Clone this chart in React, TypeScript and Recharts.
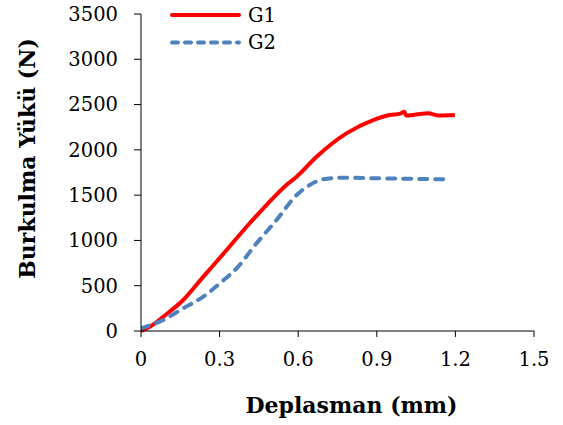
import { LineChart, Line, XAxis, YAxis, Legend } from 'recharts';

// G1 (red, solid)
const g1X = [0, 0.03, 0.085, 0.161, 0.238, 0.327, 0.403, 0.479, 0.555, 0.594, 0.67, 0.784, 0.886, 0.95, 0.99, 1.005, 1.012, 1.05, 1.096, 1.134, 1.198];
const g1Y = [0, 40, 158, 342, 600, 894, 1151, 1391, 1612, 1703, 1924, 2182, 2329, 2385, 2400, 2421, 2380, 2390, 2403, 2380, 2385];

// G2 (blue, dashed)
const g2X = [0, 0.085, 0.161, 0.238, 0.301, 0.365, 0.441, 0.517, 0.594, 0.644, 0.695, 0.771, 0.911, 1.159];
const g2Y = [30, 121, 250, 379, 527, 692, 968, 1225, 1501, 1612, 1675, 1692, 1686, 1675];

const xTicks = [0, 0.3, 0.6, 0.9, 1.2, 1.5];
const yTicks = [0, 500, 1000, 1500, 2000, 2500, 3000, 3500];

const series = [
  { name: 'G1', color: '#FF0000', dash: undefined as string | undefined },
  { name: 'G2', color: '#4F81BD', dash: '8 8' },
];

const g1 = g1X.map((x, i) => ({ x, y: g1Y[i] }));
const g2 = g2X.map((x, i) => ({ x, y: g2Y[i] }));

const FONT = '"DejaVu Serif", serif';
const tickStyle = { fill: '#000', fontSize: 19.5, fontFamily: FONT };

function LegendBox() {
  return (
    <svg width={120} height={60} style={{ display: 'block' }}>
      {series.map((s, i) => (
        <g key={s.name}>
          <line
            x1={4}
            x2={71}
            y1={13 + i * 27.5}
            y2={13 + i * 27.5}
            stroke={s.color}
            strokeWidth={4}
            strokeDasharray={s.dash ? '6 7' : undefined}
            strokeLinecap="round"
          />
          <text x={80} y={13 + i * 27.5} dominantBaseline="central" fontSize={19.5} fontFamily={FONT} fill="#000">
            {s.name}
          </text>
        </g>
      ))}
    </svg>
  );
}

const YTitle = (props: any) => {
  const vb = props.viewBox;
  const cx = vb.x + 27;
  const cy = vb.y + vb.height / 2 - 14;
  return (
    <text x={cx} y={cy} transform={`rotate(-90 ${cx} ${cy})`} textAnchor="middle" dominantBaseline="central"
      fontSize={22} fontWeight="bold" fontFamily={FONT} fill="#000">
      Burkulma Yükü (N)
    </text>
  );
};

const XTitle = (props: any) => {
  const vb = props.viewBox;
  return (
    <text x={vb.x + vb.width / 2 + 14} y={vb.y + 74} textAnchor="middle" dominantBaseline="central"
      fontSize={22} fontWeight="bold" fontFamily={FONT} fill="#000">
      Deplasman (mm)
    </text>
  );
};

export default function App() {
  return (
    <div style={{ position: 'absolute', left: 0, top: 0, background: '#fff' }}>
      <LineChart width={563} height={425} margin={{ top: 14, right: 29, bottom: 0, left: 0 }}>
        <XAxis
          type="number"
          dataKey="x"
          domain={[0, 1.5]}
          ticks={xTicks}
          allowDataOverflow
          height={94}
          tickSize={6}
          tickMargin={15}
          stroke="#000"
          tick={tickStyle}
          label={{ content: XTitle }}
        />
        <YAxis
          type="number"
          dataKey="y"
          domain={[0, 3500]}
          ticks={yTicks}
          width={141}
          tickSize={7}
          tickMargin={16}
          stroke="#000"
          tick={tickStyle}
          label={{ content: YTitle }}
        />
        <Legend
          layout="vertical"
          verticalAlign="middle"
          align="center"
          content={<LegendBox />}
          wrapperStyle={{ position: 'absolute', left: 168, top: 2, width: 120, height: 60 }}
        />
        <Line data={g1} dataKey="y" name="G1" type="monotone" stroke={series[0].color} strokeWidth={4}
          dot={false} isAnimationActive={false} />
        <Line data={g2} dataKey="y" name="G2" type="monotone" stroke={series[1].color} strokeWidth={4}
          strokeDasharray={series[1].dash} strokeLinecap="round" dot={false} isAnimationActive={false} />
      </LineChart>
    </div>
  );
}
